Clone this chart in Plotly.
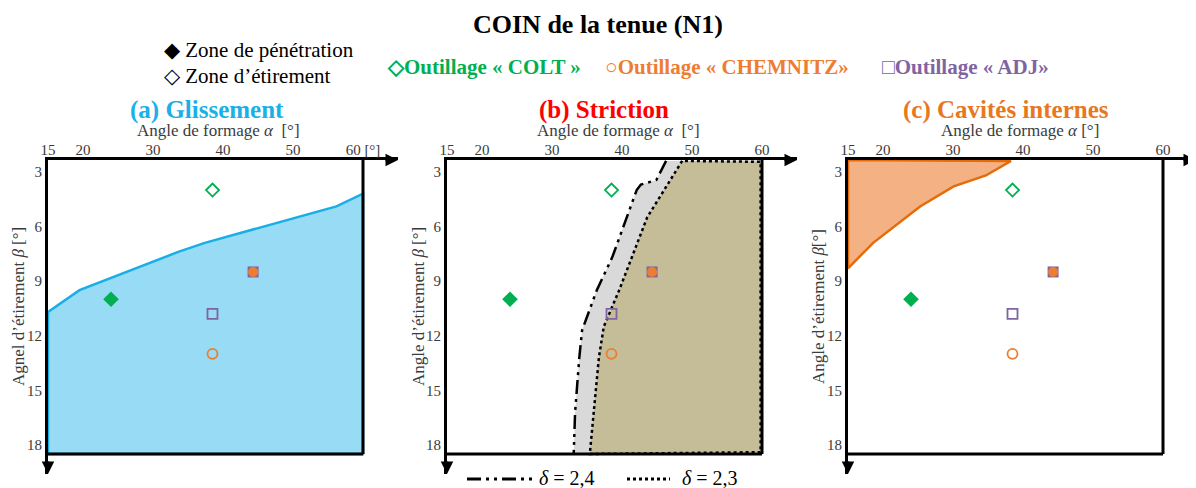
import plotly.graph_objects as go

# axis ticks
alpha_ticks = [15, 20, 30, 40, 50, 60]
beta_ticks = [3, 6, 9, 12, 15, 18]

# tools: penetration zone (filled) and stretching zone (open)
tools = ["COLT", "CHEMNITZ", "ADJ"]
tool_colors = ["#00B050", "#ED7D31", "#8064A2"]
pen_alpha = [24, 44.3, 44.3]
pen_beta = [10.0, 8.5, 8.5]
etir_alpha = [38.5, 38.5, 38.5]
etir_beta = [4.0, 13.0, 10.8]

# (a) glissement boundary
gl_alpha = [15, 19.5, 33.6, 37.4, 56.2, 60]
gl_beta = [10.7, 9.5, 7.4, 6.9, 4.9, 4.2]

# (b) striction boundaries
d24_alpha = [46.3, 44.9, 42.7, 42.1, 38.6, 36.4, 34.3, 33.9, 33.3, 33.1]
d24_beta = [2.4, 3.45, 3.7, 4.0, 7.7, 9.5, 11.7, 13.2, 16.2, 18.5]
d23_alpha = [48.6, 46.3, 44.3, 43.6, 39.6, 37.4, 36.7, 36.0, 35.4]
d23_beta = [2.4, 3.8, 5.0, 5.5, 9.5, 11.5, 13.2, 15.9, 18.5]

# (c) cavites internes boundary
cav_alpha = [38.3, 34.7, 30.1, 25.3, 18.6, 15]
cav_beta = [2.4, 3.2, 3.8, 4.9, 6.9, 8.3]

A_MIN, A_MAX, A_END = 15, 60, 65
B_TOP, B_BOX, B_END = 2.35, 18.5, 19.6

W, H = 1196, 488
OFF = 8  # page body margin
def px(x): return (x - OFF) / W
def py(y): return 1 - (y - OFF) / H

FONT = "Liberation Serif"
GREY = "#3b3b3b"

fig = go.Figure()

# domains (pixels) for each panel
panels = [(48, 398), (447, 797), (848, 1196)]
ydom = [py(474), py(160)]

def note(x, y, text, size, color, xanchor="center", **kw):
    fig.add_annotation(xref="paper", yref="paper", x=px(x), y=py(y), text=text, showarrow=False,
                       xanchor=xanchor, yanchor="middle", font=dict(family=FONT, size=size, color=color), **kw)

def add_markers(n):
    xa = "x" if n == 1 else "x%d" % n
    ya = "y" if n == 1 else "y%d" % n
    # stretch zone: open symbols
    syms_open = ["diamond-open", "circle-open", "square-open"]
    for i in range(3):
        fig.add_trace(go.Scatter(x=[etir_alpha[i]], y=[etir_beta[i]], mode="markers", xaxis=xa, yaxis=ya,
                                 marker=dict(symbol=syms_open[i], size=10, color=tool_colors[i], line=dict(width=1.8)),
                                 showlegend=False))
    # penetration zone: filled (ADJ square under CHEMNITZ circle)
    fig.add_trace(go.Scatter(x=[pen_alpha[2]], y=[pen_beta[2]], mode="markers", xaxis=xa, yaxis=ya,
                             marker=dict(symbol="square", size=11, color=tool_colors[2]), showlegend=False))
    fig.add_trace(go.Scatter(x=[pen_alpha[1]], y=[pen_beta[1]], mode="markers", xaxis=xa, yaxis=ya,
                             marker=dict(symbol="circle", size=10, color=tool_colors[1]), showlegend=False))
    fig.add_trace(go.Scatter(x=[pen_alpha[0]], y=[pen_beta[0]], mode="markers", xaxis=xa, yaxis=ya,
                             marker=dict(symbol="diamond", size=12, color=tool_colors[0]), showlegend=False))

# (a) Glissement
fig.add_trace(go.Scatter(x=gl_alpha + [A_MAX, A_MIN, A_MIN], y=gl_beta + [B_BOX, B_BOX, gl_beta[0]],
                         fill="toself", fillcolor="#97DBF5", mode="lines",
                         line=dict(color="#1AAEE6", width=2.5), xaxis="x", yaxis="y", showlegend=False))
add_markers(1)

# (b) Striction
fig.add_trace(go.Scatter(x=d24_alpha + [A_MAX, A_MAX], y=d24_beta + [B_BOX, B_TOP],
                         fill="toself", fillcolor="#D9D9D9", mode="none", xaxis="x2", yaxis="y2", showlegend=False))
fig.add_trace(go.Scatter(x=d23_alpha + [A_MAX - 0.2, A_MAX - 0.2, d23_alpha[0]],
                         y=d23_beta + [B_BOX - 0.1, B_TOP + 0.1, d23_beta[0]],
                         fill="toself", fillcolor="#C4BD97", mode="lines",
                         line=dict(color="black", width=2.5, dash="dot"), xaxis="x2", yaxis="y2", showlegend=False))
fig.add_trace(go.Scatter(x=d24_alpha, y=d24_beta, mode="lines",
                         line=dict(color="black", width=2.5, dash="14px,5px,3px,5px,3px,5px"),
                         xaxis="x2", yaxis="y2", showlegend=False))
add_markers(2)

# (c) Cavites internes
fig.add_trace(go.Scatter(x=cav_alpha + [A_MIN, cav_alpha[0]], y=cav_beta + [B_TOP, cav_beta[0]],
                         fill="toself", fillcolor="#F4B183", mode="lines",
                         line=dict(color="#E46C0A", width=2.5), xaxis="x3", yaxis="y3", showlegend=False))
add_markers(3)

for n, (x0, x1) in enumerate(panels, start=1):
    a_end = A_MIN + (A_END - A_MIN) * (x1 - x0) / 350
    ticktext = [str(t) for t in alpha_ticks]
    if n == 1:
        ticktext[-1] = "60 [°]"
    xk = "xaxis" if n == 1 else "xaxis%d" % n
    yk = "yaxis" if n == 1 else "yaxis%d" % n
    fig.layout[xk] = dict(domain=[px(x0), px(x1)], range=[A_MIN, a_end], side="top", automargin=False,
                          anchor="y" if n == 1 else "y%d" % n, ticklabelstandoff=-4,
                          tickvals=alpha_ticks, ticktext=ticktext, showgrid=False, zeroline=False,
                          showline=True, linecolor="black", linewidth=3, ticks="",
                          tickfont=dict(family=FONT, size=15, color=GREY))
    fig.layout[yk] = dict(domain=ydom, range=[B_END, B_TOP], anchor="x" if n == 1 else "x%d" % n,
                          tickvals=beta_ticks, showgrid=False, zeroline=False, automargin=False,
                          showline=True, linecolor="black", linewidth=3, ticks="",
                          tickfont=dict(family=FONT, size=15, color=GREY))
    xr = "x" if n == 1 else "x%d" % n
    yr = "y" if n == 1 else "y%d" % n
    # box right and bottom edges
    fig.add_shape(type="line", xref=xr, yref=yr, x0=A_MAX, x1=A_MAX, y0=B_TOP, y1=B_BOX,
                  line=dict(color="black", width=3))
    fig.add_shape(type="line", xref=xr, yref=yr, x0=A_MIN, x1=A_MAX, y0=B_BOX, y1=B_BOX,
                  line=dict(color="black", width=3))
    # arrows on axes
    fig.add_annotation(xref=xr + " domain", yref=yr + " domain", x=1, y=1, ax=-14, ay=0,
                       showarrow=True, arrowhead=2, arrowsize=1, arrowwidth=2.5, arrowcolor="black", text="")
    fig.add_annotation(xref=xr + " domain", yref=yr + " domain", x=0, y=0, ax=0, ay=-14,
                       showarrow=True, arrowhead=2, arrowsize=1, arrowwidth=2.5, arrowcolor="black", text="")

# panel titles
panel_titles = ["(a) Glissement", "(b) Striction", "(c) Cavités internes"]
panel_colors = ["#1AB0E8", "#FF0000", "#E87722"]
panel_cx = [207, 604, 1006]
for t, c, x in zip(panel_titles, panel_colors, panel_cx):
    note(x, 110, "<b>%s</b>" % t, 25, c)

# x axis titles
x_titles = ["Angle de formage <i>α</i>  [°]", "Angle de formage <i>α</i>  [°]", "Angle de formage <i>α</i> [°]"]
x_title_cx = [218, 618, 1020]
for t, x in zip(x_titles, x_title_cx):
    note(x, 131, t, 17, GREY)

# y axis titles
y_titles = ["Agnel d’étirement <i>β</i> [°]", "Angle d’étirement <i>β</i> [°]", "Angle d’étirement <i>β</i>[°]"]
y_title_x = [18, 418, 818]
for t, x in zip(y_titles, y_title_x):
    note(x, 307, t, 17, GREY, textangle=-90)

# main title, pinned to the top of the page
fig.add_annotation(xref="paper", yref="paper", x=px(598), y=1, xanchor="center", yanchor="top",
                   text="<b>COIN de la tenue (N1)</b>", showarrow=False,
                   font=dict(family=FONT, size=26, color="black"))

# top legend
note(162, 50, "◆ Zone de pénétration", 21, "black", xanchor="left")
note(162, 76, "◇ Zone d’étirement", 21, "black", xanchor="left")
leg_text = ["◇Outillage « COLT »", "○Outillage « CHEMNITZ»", "□Outillage « ADJ»"]
leg_x = [385, 603, 880]
for t, c, x in zip(leg_text, tool_colors, leg_x):
    note(x, 67, "<b>%s</b>" % t, 21, c, xanchor="left")

# bottom legend of (b)
fig.add_shape(type="line", xref="paper", yref="paper", x0=px(467), x1=px(535), y0=py(479), y1=py(479),
              line=dict(color="black", width=3, dash="14px,5px,3px,5px,3px,5px"))
note(537, 478, "<i>δ</i> = 2,4", 20, "black", xanchor="left")
fig.add_shape(type="line", xref="paper", yref="paper", x0=px(627), x1=px(670), y0=py(479), y1=py(479),
              line=dict(color="black", width=3, dash="dot"))
note(680, 478, "<i>δ</i> = 2,3", 20, "black", xanchor="left")

fig.update_layout(width=W, height=H, margin=dict(l=0, r=0, t=0, b=0),
                  plot_bgcolor="white", paper_bgcolor="white", showlegend=False)

fig.write_html("out.html")
